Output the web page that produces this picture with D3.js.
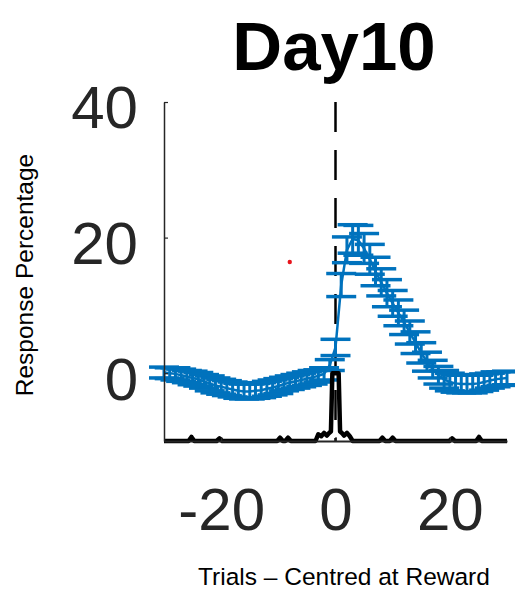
<!DOCTYPE html>
<html>
<head>
<meta charset="utf-8">
<script src="https://cdn.jsdelivr.net/npm/d3@7"></script>
<style>
  html, body { margin: 0; padding: 0; background: #fff; }
  svg { display: block; font-family: Arial, "Liberation Sans", sans-serif; }
</style>
</head>
<body>
<svg id="chart" width="515" height="589"></svg>
<script>
// Ensayos centrados en la recompensa
const trials = [-30, -29, -28, -27, -26, -25, -24, -23, -22, -21,
                -20, -19, -18, -17, -16, -15, -14, -13, -12, -11,
                -10, -9, -8, -7, -6, -5, -4, -3, -2, -1,
                0, 1, 2, 3, 4, 5, 6, 7, 8, 9,
                10, 11, 12, 13, 14, 15, 16, 17, 18, 19,
                20, 21, 22, 23, 24, 25, 26, 27, 28, 29, 30];

// Media de respuesta (%)
const meanResp = [0.1, 0.0, -0.1, -0.3, -0.5, -0.7, -0.9, -1.2, -1.5, -1.8,
                  -2.0, -2.2, -2.4, -2.6, -2.7, -2.7, -2.6, -2.5, -2.3, -2.1,
                  -1.9, -1.6, -1.4, -1.2, -1.0, -0.8, -0.6, -0.4, -0.1, 1.2,
                  3.8, 13.0, 18.2, 19.8, 19.6, 18.4, 16.8, 15.0, 13.4, 11.8,
                  10.3, 8.9, 7.5, 6.0, 4.5, 3.0, 1.7, 0.6, -0.3, -0.9,
                  -1.3, -1.5, -1.6, -1.6, -1.6, -1.5, -1.3, -1.1, -0.9, -0.8, -0.7];

// Error estándar
const semResp = [0.8, 0.8, 0.9, 0.9, 0.9, 1.0, 1.0, 1.0, 1.1, 1.1,
                 1.1, 1.1, 1.1, 1.1, 1.1, 1.1, 1.1, 1.1, 1.1, 1.1,
                 1.1, 1.0, 1.0, 1.0, 1.0, 1.0, 1.0, 0.9, 0.9, 0.8,
                 1.2, 1.7, 1.9, 2.1, 2.2, 2.2, 2.2, 2.1, 2.0, 2.0,
                 1.9, 1.9, 1.8, 1.7, 1.6, 1.5, 1.4, 1.3, 1.3, 1.3,
                 1.3, 1.3, 1.3, 1.3, 1.3, 1.2, 1.2, 1.1, 1.1, 1.0, 1.0];

// Traza negra (recompensas) a lo largo del eje inferior
const rewardTrials = [-30, -25.7, -25.2, -24.7, -20.8, -20.3, -19.8, -10.2, -9.7, -9.2,
                      -8.8, -8.3, -7.8, -3.5, -3, -2.5, -2, -1.5, -1.1, -0.8,
                      -0.55, 0.55, 0.8, 1.1, 1.5, 2, 2.5, 3, 7.7, 8.2,
                      8.7, 9.5, 10, 10.5, 19.9, 20.4, 20.9, 24.6, 25.1, 25.6, 30];
const rewardResp = [-10, -10, -9.4, -10, -10, -9.6, -10, -10, -9.5, -10,
                    -10, -9.5, -10, -10, -9.0, -9.3, -8.8, -9.2, -8.8, -8.6,
                    0, 0, -8.6, -8.8, -9.2, -8.8, -9.3, -10, -10, -9.5,
                    -10, -10, -9.5, -10, -10, -9.6, -10, -10, -9.4, -10, -10];

// Punto rojo aislado
const outlierTrial = [-8];
const outlierResp = [16.4];

const xTicks = [-20, 0, 20];
const yTicks = [0, 20, 40];

const svg = d3.select('#chart');

// Escalas
const x = d3.scaleLinear().domain([-30, 30]).range([164, 507]);
const y = d3.scaleLinear().domain([-10, 40]).range([441, 102]);

// Línea discontinua en la recompensa
svg.append('line')
    .attr('x1', x(0)).attr('x2', x(0))
    .attr('y1', y(40)).attr('y2', y(-10))
    .attr('stroke', '#000')
    .attr('stroke-width', 2.5)
    .attr('stroke-dasharray', '30 18');

// Barras de error
const pts = trials.map((t, i) => ({ t: t, m: meanResp[i], s: semResp[i] }));
const capHalf = 15;
const blue = '#0072BD';

const eb = svg.append('g').attr('stroke', blue);
eb.selectAll('line.v')
    .data(pts)
    .join('line')
    .attr('class', 'v')
    .attr('x1', d => x(d.t)).attr('x2', d => x(d.t))
    .attr('y1', d => y(d.m - d.s)).attr('y2', d => y(d.m + d.s))
    .attr('stroke-width', 3);
eb.selectAll('line.lo')
    .data(pts)
    .join('line')
    .attr('class', 'lo')
    .attr('x1', d => x(d.t) - capHalf).attr('x2', d => x(d.t) + capHalf)
    .attr('y1', d => y(d.m - d.s)).attr('y2', d => y(d.m - d.s))
    .attr('stroke-width', 3.5);
eb.selectAll('line.hi')
    .data(pts)
    .join('line')
    .attr('class', 'hi')
    .attr('x1', d => x(d.t) - capHalf).attr('x2', d => x(d.t) + capHalf)
    .attr('y1', d => y(d.m + d.s)).attr('y2', d => y(d.m + d.s))
    .attr('stroke-width', 3.5);

// Línea de la media
svg.append('path')
    .datum(pts)
    .attr('fill', 'none')
    .attr('stroke', blue)
    .attr('stroke-width', 2.5)
    .attr('d', d3.line().x(d => x(d.t)).y(d => y(d.m)));

// Traza negra
const reward = rewardTrials.map((t, i) => ({ t: t, v: rewardResp[i] }));
svg.append('path')
    .datum(reward)
    .attr('fill', 'none')
    .attr('stroke', '#000')
    .attr('stroke-width', 4.5)
    .attr('stroke-linejoin', 'round')
    .attr('d', d3.line().x(d => x(d.t)).y(d => y(d.v)));

// Punto rojo
svg.selectAll('circle.out')
    .data(outlierTrial.map((t, i) => ({ t: t, v: outlierResp[i] })))
    .join('circle')
    .attr('class', 'out')
    .attr('cx', d => x(d.t))
    .attr('cy', d => y(d.v))
    .attr('r', 2.2)
    .attr('fill', '#e8141c');

// Ejes
const axisColor = '#262626';

const yAxis = svg.append('g')
    .attr('transform', `translate(${x(-30)},0)`)
    .call(d3.axisLeft(y).tickValues(yTicks).tickSizeInner(-4).tickSizeOuter(0).tickPadding(26));
yAxis.select('.domain').attr('stroke', axisColor).attr('stroke-width', 1.5);
yAxis.selectAll('.tick line').attr('stroke', axisColor).attr('stroke-width', 1.2);
yAxis.selectAll('.tick text')
    .attr('fill', axisColor)
    .attr('font-size', 60)
    .attr('font-family', 'Arial, "Liberation Sans", sans-serif')
    .attr('dy', '0.43em');

const xAxis = svg.append('g')
    .attr('transform', `translate(0,${y(-10)})`)
    .call(d3.axisBottom(x).tickValues(xTicks).tickSizeInner(-4).tickSizeOuter(0));
xAxis.select('.domain').attr('stroke', axisColor).attr('stroke-width', 2);
xAxis.selectAll('.tick line').attr('stroke', axisColor).attr('stroke-width', 1.2);
xAxis.selectAll('.tick text')
    .attr('fill', axisColor)
    .attr('font-size', 60)
    .attr('font-family', 'Arial, "Liberation Sans", sans-serif')
    .attr('y', 89)
    .attr('dy', 0)
    .text(d => d < 0 ? '-' + Math.abs(d) : d);

// Título y etiquetas
svg.append('text')
    .attr('x', 334).attr('y', 70)
    .attr('text-anchor', 'middle')
    .attr('font-size', 69)
    .attr('font-weight', 'bold')
    .attr('fill', '#000')
    .text('Day10');

svg.append('text')
    .attr('x', 344).attr('y', 585)
    .attr('text-anchor', 'middle')
    .attr('font-size', 24.5)
    .attr('fill', '#000')
    .text('Trials – Centred at Reward');

svg.append('text')
    .attr('transform', 'translate(33,275) rotate(-90)')
    .attr('text-anchor', 'middle')
    .attr('font-size', 24.5)
    .attr('fill', '#000')
    .text('Response Percentage');
</script>
</body>
</html>
